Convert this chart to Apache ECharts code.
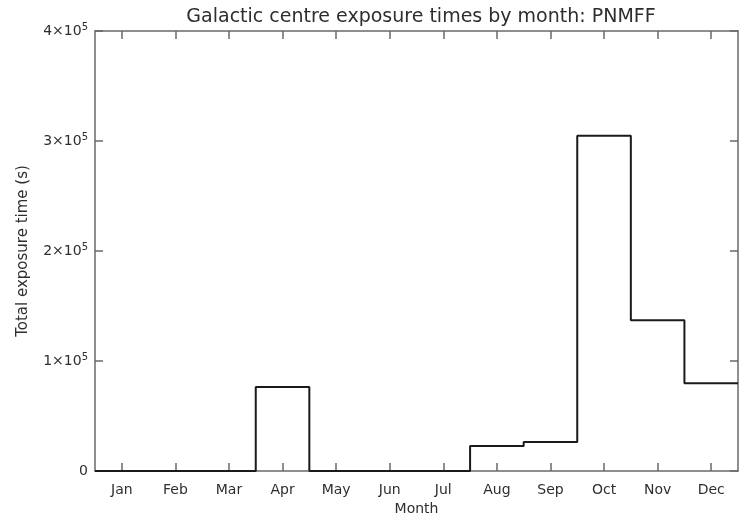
<!DOCTYPE html>
<html>
<head>
<meta charset="utf-8">
<script src="https://cdn.jsdelivr.net/npm/echarts@6/dist/echarts.min.js"></script>
<style>
  html, body { margin: 0; padding: 0; background: #fff; }
  #chart { width: 739px; height: 516px; }
</style>
</head>
<body>
<div id="chart"></div>
<script>
// month categories and summed exposure (s)
const months = ['Jan', 'Feb', 'Mar', 'Apr', 'May', 'Jun', 'Jul', 'Aug', 'Sep', 'Oct', 'Nov', 'Dec']
const exposure = [0, 0, 0, 76400, 0, 0, 0, 22700, 26400, 304800, 137000, 79700]
const yTicks = [0, 100000, 200000, 300000, 400000]

// histogram outline: each month spans [i, i+1] on a hidden value axis
const stepPoints = []
exposure.forEach((v, i) => {
  stepPoints.push([i, v])
  stepPoints.push([i + 1, v])
})

const frame = '#6a6a6a'
const font = 'DejaVu Sans'
const ink = '#2e2e2e'

const chart = echarts.init(document.getElementById('chart'))

const line = { show: true, onZero: false, lineStyle: { color: frame, width: 1.5 } }
const tick = { show: true, inside: true, length: 8, lineStyle: { color: frame, width: 1.5 } }

chart.setOption({
  animation: false,
  title: {
    text: 'Galactic centre exposure times by month: PNMFF',
    left: 416,
    top: 3,
    textAlign: 'center',
    textStyle: { fontFamily: font, fontSize: 19, fontWeight: 'normal', color: ink },
  },
  grid: { left: 95, right: 1, top: 31, bottom: 45, containLabel: false, outerBoundsMode: 'none' },
  xAxis: [
    {
      type: 'category',
      data: months,
      position: 'bottom',
      boundaryGap: true,
      name: 'Month',
      nameLocation: 'middle',
      nameGap: 31,
      nameTextStyle: { fontFamily: font, fontSize: 14, color: ink },
      axisLine: line,
      axisTick: Object.assign({ alignWithLabel: true, interval: 0 }, tick),
      axisLabel: { margin: 12, interval: 0, fontFamily: font, fontSize: 14, color: ink },
      splitLine: { show: false },
    },
    {
      // top frame: same ticks, labels kept but invisible so the ticks are laid out
      type: 'category',
      data: months,
      position: 'top',
      boundaryGap: true,
      axisLine: line,
      axisTick: Object.assign({ alignWithLabel: true, interval: 0 }, tick),
      axisLabel: { show: true, interval: 0, fontSize: 14, color: 'rgba(0,0,0,0)' },
      splitLine: { show: false },
    },
    {
      type: 'value',
      min: 0,
      max: 12,
      show: false,
    },
  ],
  yAxis: [
    {
      type: 'value',
      min: 0,
      max: 400000,
      interval: 100000,
      position: 'left',
      name: 'Total exposure time (s)',
      nameLocation: 'middle',
      nameGap: 64,
      nameTextStyle: { fontFamily: font, fontSize: 15, color: ink },
      axisLine: line,
      axisTick: tick,
      axisLabel: {
        margin: 7,
        fontFamily: font,
        fontSize: 14,
        color: ink,
        formatter: (v) => {
          if (!yTicks.includes(v)) return ''
          if (v === 0) return '0'
          return '{b|' + v / 100000 + '×10}{s|5}'
        },
        rich: {
          b: { fontFamily: font, fontSize: 14, color: ink },
          s: { fontFamily: font, fontSize: 10, color: ink, verticalAlign: 'top', padding: [0, 0, 8, 0] },
        },
      },
      splitLine: { show: false },
    },
    {
      type: 'value',
      min: 0,
      max: 400000,
      interval: 100000,
      position: 'right',
      axisLine: line,
      axisTick: tick,
      axisLabel: { show: false },
      splitLine: { show: false },
    },
  ],
  series: [
    {
      type: 'line',
      xAxisIndex: 2,
      yAxisIndex: 0,
      data: stepPoints,
      symbol: 'none',
      lineStyle: { color: '#1a1a1a', width: 2 },
    },
  ],
})
</script>
</body>
</html>
